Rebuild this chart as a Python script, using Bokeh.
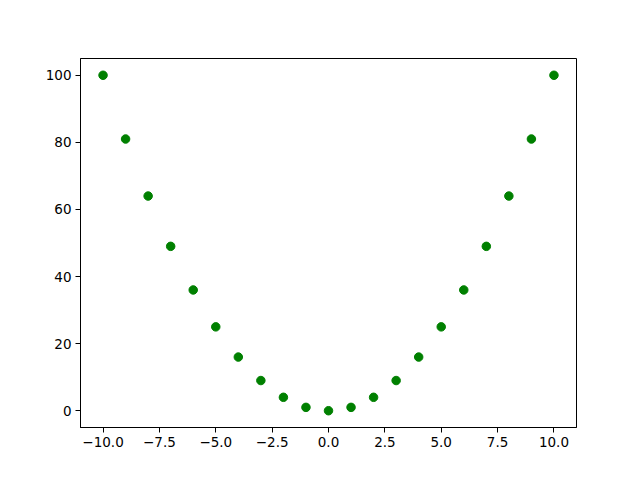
from bokeh.plotting import figure
from bokeh.models import FixedTicker, Range1d
from bokeh.embed import file_html
from bokeh.resources import INLINE

x_vals = [-10, -9, -8, -7, -6, -5, -4, -3, -2, -1, 0, 1, 2, 3, 4, 5, 6, 7, 8, 9, 10]
y_vals = [100, 81, 64, 49, 36, 25, 16, 9, 4, 1, 0, 1, 4, 9, 16, 25, 36, 49, 64, 81, 100]
x_ticks = [-10.0, -7.5, -5.0, -2.5, 0.0, 2.5, 5.0, 7.5, 10.0]
x_tick_labels = ["\u221210.0", "\u22127.5", "\u22125.0", "\u22122.5", "0.0", "2.5", "5.0", "7.5", "10.0"]
y_ticks = [0, 20, 40, 60, 80, 100]

p = figure(width=624, height=464, output_backend="svg", toolbar_location=None,
           x_range=Range1d(-11, 11), y_range=Range1d(-5, 105),
           min_border_left=80, min_border_right=48, min_border_top=58, min_border_bottom=37)
p.scatter(x_vals, y_vals, size=8.5, color="#008000", line_color="#008000")

p.xgrid.visible = False
p.ygrid.visible = False
p.outline_line_color = "black"
p.outline_line_width = 1
p.background_fill_color = "white"
p.border_fill_color = "white"

p.xaxis.ticker = FixedTicker(ticks=x_ticks)
p.xaxis.major_label_overrides = {t: l for t, l in zip(x_ticks, x_tick_labels)}
p.yaxis.ticker = FixedTicker(ticks=y_ticks)
for ax in (p.xaxis, p.yaxis):
    ax.axis_line_color = "black"
    ax.major_tick_line_color = "black"
    ax.major_tick_out = 5
    ax.major_tick_in = 0
    ax.minor_tick_line_color = None
    ax.major_label_text_font = "DejaVu Sans"
    ax.major_label_text_font_size = "13.5px"
    ax.major_label_text_color = "black"
    ax.major_label_standoff = 4

open("out.html", "w").write(file_html(p, INLINE))
